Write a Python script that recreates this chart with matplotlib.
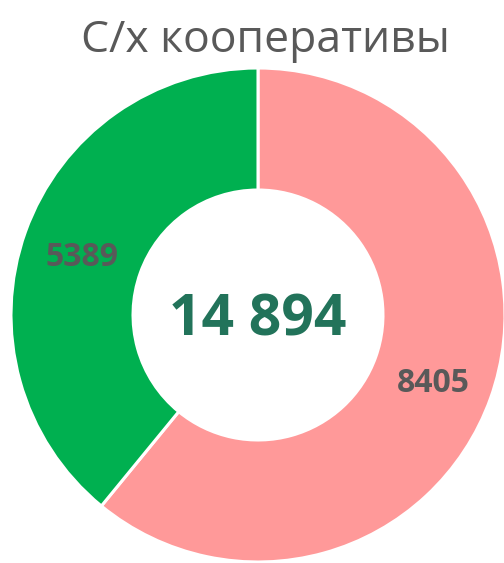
import numpy as np
import matplotlib.pyplot as plt

# data
categories = ['Прочие', 'С/х кооперативы']
values = [8405, 5389]
colors = ['#FF9999', '#00B050']
total_label = '14 894'
title = 'С/х кооперативы'

W, H = 504, 563
cx, cy, R = 258, 315, 247  # pie centre and radius in pixels

fig = plt.figure(figsize=(W / 100, H / 100), dpi=100)
ax = fig.add_axes([0, 0, 1, 1])

wedges, texts = ax.pie(
    values, colors=colors, startangle=90, counterclock=False,
    radius=R, wedgeprops=dict(width=R * 0.494, edgecolor='white', linewidth=2.2),
)

for w, v in zip(wedges, values):
    ang = np.deg2rad((w.theta1 + w.theta2) / 2)
    r = R * 0.755
    ax.text(r * np.cos(ang), r * np.sin(ang) - 14, str(v), ha='center', va='baseline',
            fontsize=23, fontweight='bold', color='#595959', family='Open Sans')

ax.text(0, -20, total_label, ha='center', va='baseline', fontsize=41,
        fontweight='bold', color='#22735A', family='Open Sans')

ax.set_xlim(-cx, W - cx)
ax.set_ylim(-(H - cy), cy)
ax.set_aspect('equal')
ax.axis('off')

fig.text(265 / W, 1 - 52 / H, title, ha='center', va='baseline', fontsize=32,
         color='#595959', family='Open Sans')

fig.savefig('out.png', dpi=100)
